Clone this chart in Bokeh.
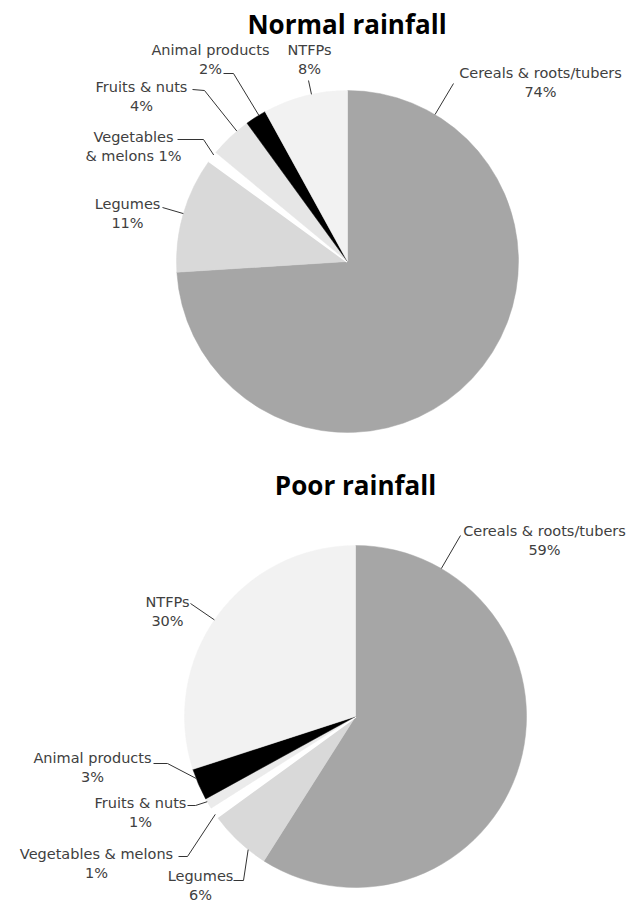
import math
from bokeh.plotting import figure
from bokeh.models import ColumnDataSource, Range1d
from bokeh.core.properties import value
from bokeh.embed import file_html
from bokeh.resources import INLINE

# ---------------- data ----------------
categories = ["Cereals & roots/tubers", "Legumes", "Vegetables & melons",
              "Fruits & nuts", "Animal products", "NTFPs"]
normal_pct = [74, 11, 1, 4, 2, 8]
poor_pct = [59, 6, 1, 1, 3, 30]
titles = ["Normal rainfall", "Poor rainfall"]

normal_label_text = ["Cereals & roots/tubers\n{p}%", "Legumes\n{p}%",
                     "Vegetables\n& melons {p}%", "Fruits & nuts\n{p}%",
                     "Animal products\n{p}%", "NTFPs\n{p}%"]
poor_label_text = [c + "\n{p}%" for c in categories]

# ---------------- style / layout ----------------
W, H = 636, 903
slice_colors_normal = ["#a6a6a6", "#d9d9d9", "#ffffff", "#e6e6e6", "#000000", "#f2f2f2"]
slice_colors_poor = ["#a6a6a6", "#d9d9d9", "#ffffff", "#ebebeb", "#000000", "#f2f2f2"]
TEXT_COLOR = "#404040"
LEADER_COLOR = "#333333"
R = 171
centers = [(347, 261), (355, 716)]          # pixel coords (from top)
title_pos = [(346.5, 23), (355, 484)]
normal_label_xy = [(540, 72.5), (127, 203), (133, 136), (141, 86), (210, 49), (309, 49)]
poor_label_xy = [(544, 530), (200, 875), (96, 853), (140, 802), (92, 757), (167, 601)]
LINE_STEP = 19.2
normal_leader = [[(453, 83)], [(162, 207)], [(177, 139), (203, 139)],
                 [(192, 89), (204, 90)], [(223, 73), (233, 73)], [(308, 80)]]
poor_leader = [[(460, 535)], [(233, 880), (243, 880)], [(178, 856), (187, 856)],
               [(187, 805), (195, 805)], [(153, 763), (167, 763)], [(190, 603)]]


def Y(py):
    return H - py


p = figure(width=W, height=H, output_backend="svg", toolbar_location=None,
           x_range=Range1d(0, W), y_range=Range1d(0, H), min_border=0)
p.axis.visible = False
p.grid.visible = False
p.outline_line_color = None
p.background_fill_color = "white"


def draw_pie(vals, colors, center, label_templates, label_xy, leaders, title, tpos):
    cx, cy = center
    total = float(sum(vals))
    th1, th2 = [], []
    acc = 0.0
    for v in vals:
        a1 = acc / total * 360.0
        acc += v
        a2 = acc / total * 360.0
        th1.append(a1)
        th2.append(a2)
    src = ColumnDataSource(dict(
        x=[cx] * len(vals), y=[Y(cy)] * len(vals),
        start=[math.radians(90 - b) for b in th2],
        end=[math.radians(90 - a) for a in th1],
        fill=colors,
        lc=["white" if c == "#ffffff" else c for c in colors],
        lw=[2.5 if c == "#ffffff" else 0.5 for c in colors],
    ))
    p.wedge(x="x", y="y", radius=R, start_angle="start", end_angle="end",
            fill_color="fill", line_color="lc", line_width="lw", source=src)

    # leaders
    xs, ys = [], []
    for i, pts in enumerate(leaders):
        w = th2[i] - th1[i]
        m = min(0.3 * w, 10.0)
        lx, ly = pts[-1]
        dx, dy = lx - cx, ly - cy
        th = math.degrees(math.atan2(dx, -dy)) % 360.0
        th = max(th1[i] + m, min(th2[i] - m, th))
        ex = cx + R * math.sin(math.radians(th))
        ey = cy - R * math.cos(math.radians(th))
        xs.append([q[0] for q in pts] + [ex])
        ys.append([Y(q[1]) for q in pts] + [Y(ey)])
    p.multi_line(xs=xs, ys=ys, line_color=LEADER_COLOR, line_width=1)

    # labels
    tx, ty, tt = [], [], []
    for i, tmpl in enumerate(label_templates):
        lines = tmpl.format(p=vals[i]).split("\n")
        x0, y0 = label_xy[i]
        for k, ln in enumerate(lines):
            tx.append(x0)
            ty.append(Y(y0 + k * LINE_STEP))
            tt.append(ln)
    p.text(x=tx, y=ty, text=tt, text_font=value("DejaVu Sans"),
           text_font_size=value("14.5px"), text_color=TEXT_COLOR,
           text_align="center", text_baseline="middle")

    p.text(x=[tpos[0]], y=[Y(tpos[1])], text=[title], text_font=value("Open Sans"),
           text_font_style="bold", text_font_size=value("26px"), text_color="#000000",
           text_align="center", text_baseline="middle")


draw_pie(normal_pct, slice_colors_normal, centers[0], normal_label_text,
         normal_label_xy, normal_leader, titles[0], title_pos[0])
draw_pie(poor_pct, slice_colors_poor, centers[1], poor_label_text,
         poor_label_xy, poor_leader, titles[1], title_pos[1])

open("out.html", "w").write(file_html(p, INLINE))
